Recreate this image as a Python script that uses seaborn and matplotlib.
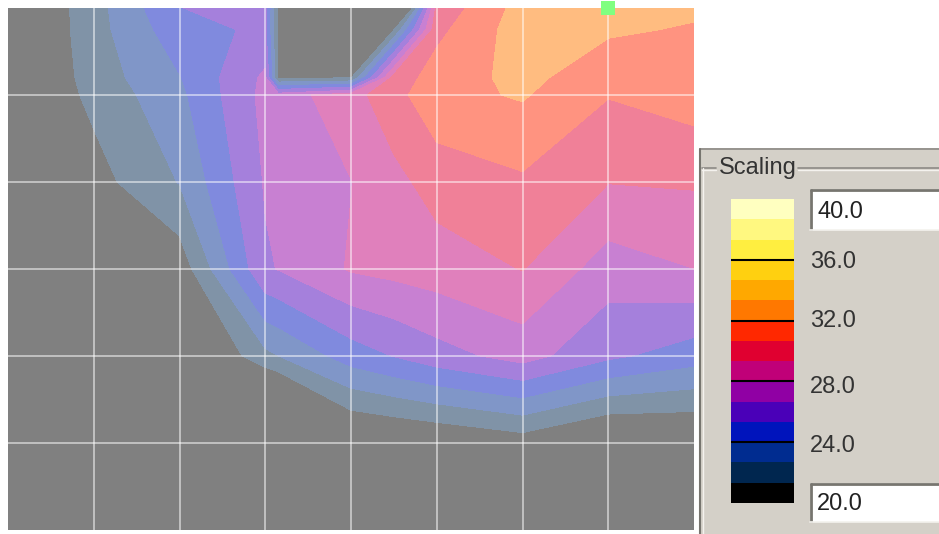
"""Temperature map with the Scaling panel next to it"""
import numpy as np
import matplotlib
matplotlib.use('Agg')
import matplotlib.pyplot as plt
from matplotlib.colors import ListedColormap, to_rgb
from matplotlib.patches import Rectangle
import seaborn as sns

# nodes of the map, in grid cells (the extra ones trace the pocket at the top)
col_pos = [0, 1, 2, 3, 3.15, 4, 4.5, 5, 6, 7, 8]
row_pos = [0, 0.25, 0.8, 1, 2, 3, 4, 5, 6]
grid_cols = [1, 2, 3, 4, 5, 6, 7]
grid_rows = [1, 2, 3, 4, 5]

row_a = [19.27, 22.13, 25.31, 25.73, 21.07, 13.33, 14.67, 29.73, 32.53, 32.69, 32.23]
row_b = [19.20, 22.13, 24.80, 25.60, 21.07, 13.33, 21.27, 30.31, 32.69, 32.19, 31.87]
row_c = [19.20, 21.93, 23.93, 26.93, 21.07, 21.20, 29.87, 31.27, 32.40, 31.12, 31.53]
row_d = [19.60, 21.67, 23.68, 27.07, 27.33, 28.80, 30.20, 31.60, 32.13, 30.73, 31.33]
row_e = [18.67, 20.80, 22.73, 26.80, 26.97, 27.97, 28.93, 29.89, 30.47, 29.37, 29.47]
row_f = [17.33, 18.67, 20.47, 26.47, 26.72, 28.13, 28.40, 28.67, 29.37, 27.33, 27.99]
row_g = [16.00, 16.00, 18.67, 22.31, 22.65, 24.63, 25.37, 26.13, 27.20, 25.60, 24.60]
row_h = [16.00, 16.00, 16.00, 14.67, 15.33, 19.33, 19.57, 19.83, 20.53, 19.20, 19.47]
row_i = [16.00, 16.00, 16.00, 16.00, 16.00, 16.00, 16.00, 16.00, 16.00, 16.00, 16.00]

# selected node, the green square
marker_col = [7]
marker_row = [0]

# band edges and colours of the scale, low to high
band_edges = [-50, 21.33, 22.67, 24.0, 25.33, 26.67, 28.0, 29.33, 30.67, 32.0,
              33.33, 34.67, 36.0, 37.33, 38.67, 40.0]
band_colors = ['#000000', '#00264F', '#002C90', '#0014BC', '#4A00B8', '#9000A4',
               '#C00078', '#E00030', '#FF2800', '#FF7800', '#FFA800', '#FFD010',
               '#FFEE40', '#FFF880', '#FFFFC0']

scale_lines = [36.0, 32.0, 28.0, 24.0]
scale_labels = ['36.0', '32.0', '28.0', '24.0']
scale_label_y = [262, 321, 387, 446]
scale_top = 40.0
scale_bottom = 20.0

sns.set_theme(style='white')
plt.rcParams['font.family'] = ['Liberation Sans', 'DejaVu Sans']

W, H = 939, 534
fig = plt.figure(figsize=(W / 100, H / 100), dpi=100, facecolor='white')


def px_axes(x0, y0, x1, y1):
    return fig.add_axes([x0 / W, 1 - y1 / H, (x1 - x0) / W, (y1 - y0) / H])


# dialog panel behind everything, in pixels
ui = fig.add_axes([0, 0, 1, 1])
ui.set_xlim(0, W)
ui.set_ylim(H, 0)
ui.axis('off')
ui.add_patch(Rectangle((700, 148), 239, 386, fc='#D4D0C8', ec='none'))
ui.plot([700, 939], [149, 149], color='#8C8A85', lw=1.2)
ui.plot([700, 700], [149, 534], color='#77756F', lw=1.5)
ui.plot([702, 716], [168, 168], color='#8C8A85', lw=1.2)
ui.plot([798, 939], [168, 168], color='#8C8A85', lw=1.2)
ui.plot([702, 716], [170, 170], color='#F4F2EE', lw=1.0)
ui.plot([798, 939], [170, 170], color='#F4F2EE', lw=1.0)
ui.plot([703, 703], [168, 534], color='#F4F2EE', lw=1.0)
ui.text(719, 168, 'Scaling', fontsize=17, color='#333333', va='center', ha='left')

for top, bottom, label in [(189, 230, '40.0'), (483, 522, '20.0')]:
    ui.add_patch(Rectangle((810, top), 129, bottom - top, fc='white', ec='none'))
    ui.plot([810, 939], [top + 1, top + 1], color='#77756F', lw=2, solid_capstyle='butt')
    ui.plot([811, 811], [top, bottom], color='#77756F', lw=2, solid_capstyle='butt')
    ui.plot([810, 939], [bottom, bottom], color='#F4F2EE', lw=1.2)
    ui.text(817, (top + bottom) / 2 + 2, label, fontsize=17, color='#222222', va='center', ha='left')

for label, y in zip(scale_labels, scale_label_y):
    ui.text(810, y, label, fontsize=17, color='#333333', va='center', ha='left')

# contour map, the scale colours washed half way to white
ax = px_axes(8, 8, 694, 530)
values = np.array([row_a, row_b, row_c, row_d, row_e, row_f, row_g, row_h, row_i])
washed = [tuple((c + 1) / 2 for c in to_rgb(color)) for color in band_colors]
ax.contourf(col_pos, row_pos, values, levels=band_edges, colors=washed, antialiased=False)
ax.set_xlim(col_pos[0], col_pos[-1])
ax.set_ylim(row_pos[-1], row_pos[0])
ax.set_xticks(grid_cols)
ax.set_yticks(grid_rows)
ax.grid(True, color='white', alpha=0.6, lw=1.2)
ax.set_axisbelow(False)
ax.tick_params(left=False, bottom=False, labelleft=False, labelbottom=False)
for spine in ax.spines.values():
    spine.set_visible(False)
ax.scatter(marker_col, marker_row, s=88, marker='s', color='#80FF80',
           linewidths=0, clip_on=False, zorder=5)

# colour scale
cax = px_axes(731, 199, 794, 503)
n_bands = len(band_colors)
swatches = np.arange(n_bands)[::-1].reshape(n_bands, 1)
sns.heatmap(swatches, ax=cax, cmap=ListedColormap(band_colors), vmin=-0.5,
            vmax=n_bands - 0.5, cbar=False, xticklabels=False, yticklabels=False)
band_size = (scale_top - scale_bottom) / n_bands
for value in scale_lines:
    cax.axhline((scale_top - value) / band_size, color='black', lw=1.5)

fig.savefig('out.png', dpi=100)
